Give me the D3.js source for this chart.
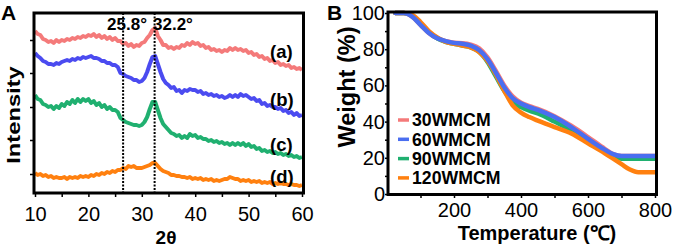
<!DOCTYPE html>
<html>
<head>
  <meta charset="utf-8">
  <style>
    body { margin: 0; background: #fff; }
    svg { font-family: Arial, "Liberation Sans", sans-serif; }
    .tick line { stroke: #000; stroke-width: 1.5; }
    .tick text { font-size: 20px; fill: #000; }
    .frame { fill: none; stroke: #000; stroke-width: 3; }
    .lbl { font-weight: bold; fill: #000; }
  </style>
</head>
<body>
<script src="https://d3js.org/d3.v7.min.js"></script>
<script>
// ---- panel A: XRD ----
const thetaStart = 10, thetaStep = 0.5;
const xrdA = [162,159,158,154,153,151,152,150,153,151, 153,152,154,153,155,154,156,155,157,156,
  158,157,159,156,158,155,157,154,156,153, 155,152,152,149,150,147,149,146,148,147,
  150,151,155,158,163,165,157,153,148,148, 145,146,144,146,145,148,147,150,148,151,
  149,150,147,148,145,146,143,144,142,143, 141,143,142,145,143,145,143,144,142,143,
  140,141,138,139,136,137,134,135,132,133, 130,131,128,129,127,128,125,126,124,125, 123];
const xrdB = [140,137,135,132,131,129,129,128,130,129, 131,132,133,132,134,133,135,134,136,135,
  136,137,135,135,134,132,132,130,130,128, 128,126,120,119,117,116,115,113,113,111,
  112,115,121,129,136,137,129,121,114,110, 108,105,106,102,103,100,103,102,104,103,
  103,101,102,99,100,98,99,97,98,96, 97,95,96,98,96,98,96,99,97,98,
  96,94,95,92,93,89,90,87,88,86, 86,84,85,82,83,80,81,78,80,77, 78];
const xrdC = [98,94,93,89,88,86,87,84,87,85, 89,87,91,89,93,90,94,91,94,92,
  94,90,92,88,90,86,88,84,86,83, 83,81,75,73,71,70,69,68,68,67,
  68,71,76,84,91,91,83,75,69,66, 63,60,59,57,58,55,57,55,59,57,
  58,55,56,54,54,52,53,51,52,50, 51,49,50,48,50,48,50,48,50,47,
  49,46,47,44,45,42,43,41,42,40, 41,39,40,38,39,37,38,36,37,35, 36];
const xrdD = [20,18,19,17,18,16,17,15,16,15, 15,16,14,16,15,16,15,17,16,17,
  16,18,17,19,18,20,19,21,20,22, 21,23,23,25,24,27,26,27,25,25,
  25,26,27,28,30,30,27,24,22,21, 20,18,18,17,17,16,16,15,16,14,
  15,14,15,13,14,13,14,12,13,12, 13,14,14,16,15,14,14,12,13,12,
  13,11,12,11,12,10,11,10,11,9, 10,9,10,9,9,8,9,8,8,7, 8];
const xrdLabels = ["(a)", "(b)", "(c)", "(d)"];
const xrdLabelY = [141, 93, 48, 16];
const xrdColors = ["#f47a7a", "#4b4bf0", "#20b070", "#ff800f"];
const peakPos = [26.5, 32.4];
const peakText = ["25.8°", "32.2°"];
const xTicksA = [10, 15, 20, 25, 30, 35, 40, 45, 50, 55, 60];
const yTicksA = [19, 53, 86, 120, 153];

// ---- panel B: TGA ----
const temps = [25, 50, 75, 100, 125, 150, 175, 200, 225, 250, 275, 300, 325, 350, 375, 400, 425, 450, 500, 550, 600, 650, 675, 700, 725, 750, 775, 800];
const w30 = [100, 100, 98, 93.5, 89, 86, 84.5, 83.5, 83.3, 82.5, 80.5, 75.5, 68, 60, 54, 50.5, 48.5, 47, 43, 37.7, 31.5, 25, 22, 21, 21, 21, 21, 21];
const w60 = [100, 100, 98, 93.5, 89, 86, 84.5, 83.5, 83, 82, 79.5, 74.5, 67, 59, 53, 50, 48, 46.5, 42.5, 37, 30.5, 24.5, 22, 21, 21, 21, 21, 21];
const w90 = [100, 100, 98.5, 94, 89.5, 86, 84, 83, 82, 81, 78.5, 73, 65, 57, 51, 48, 46, 44.5, 40, 35, 29, 23.5, 21, 19.5, 19.5, 19.5, 19.5, 19.5];
const w120 = [100, 100, 99, 95, 90, 86.5, 84, 83, 82, 81, 78.5, 73.5, 66, 57, 49, 45, 42.5, 40.5, 37, 33.5, 28, 22.5, 19.5, 16.5, 13.5, 12, 12, 12];
const tgaNames = ["30WMCM", "60WMCM", "90WMCM", "120WMCM"];
const tgaColors = ["#f47a7a", "#4a6ef0", "#20b070", "#ff800f"];
const xTicksB = [100, 200, 300, 400, 500, 600, 700, 800];
const yTicksB = [0, 10, 20, 30, 40, 50, 60, 70, 80, 90, 100];

const svg = d3.select("body").append("svg").attr("width", 678).attr("height", 250);

// panel A
const xA = d3.scaleLinear().domain([10, 60]).range([35, 302]);
const yA = d3.scaleLinear().domain([0, 180]).range([193, 13]);
const gA = svg.append("g");

gA.append("g").attr("transform", "translate(0,193)")
  .call(d3.axisBottom(xA).tickValues(xTicksA).tickSize(4).tickPadding(10)
    .tickFormat(d => d % 10 === 0 ? d : ""))
  .call(g => g.select(".domain").remove());
gA.append("g").attr("transform", "translate(34,0)")
  .call(d3.axisLeft(yA).tickValues(yTicksA).tickSize(4).tickFormat(""))
  .call(g => g.select(".domain").remove());

const lineA = d3.line().x((d, i) => xA(thetaStart + i * thetaStep)).y(d => yA(d));
[xrdA, xrdB, xrdC, xrdD].forEach((s, i) => {
  gA.append("path").datum(s).attr("d", lineA)
    .attr("fill", "none").attr("stroke", xrdColors[i]).attr("stroke-width", 4)
    .attr("stroke-linejoin", "round");
});

gA.selectAll(".peak").data(peakPos).enter().append("line")
  .attr("x1", d => xA(d)).attr("x2", d => xA(d))
  .attr("y1", 13).attr("y2", 193)
  .attr("stroke", "#000").attr("stroke-width", 2).attr("stroke-dasharray", "2,1.5");

gA.append("text").attr("class", "lbl").attr("x", 147).attr("y", 29.5)
  .attr("text-anchor", "end").attr("font-size", 17).text(peakText[0]);
gA.append("text").attr("class", "lbl").attr("x", 153).attr("y", 29.5)
  .attr("font-size", 17).text(peakText[1]);

gA.selectAll(".clab").data(xrdLabels).enter().append("text")
  .attr("class", "lbl").attr("x", 270).attr("y", (d, i) => yA(xrdLabelY[i]))
  .attr("dy", "0.35em").attr("font-size", 18.5).text(d => d);

gA.append("rect").attr("class", "frame").attr("x", 34).attr("y", 13).attr("width", 269.5).attr("height", 180);

// the original's axis title is drawn taller than wide
gA.append("text").attr("class", "lbl").attr("transform", "translate(19.5,115) rotate(-90) scale(1.25,1)")
  .attr("text-anchor", "middle").attr("font-size", 19).text("Intensity");
gA.append("text").attr("class", "lbl").attr("x", 166).attr("y", 244)
  .attr("text-anchor", "middle").attr("font-size", 19).text("2θ");
gA.append("text").attr("class", "lbl").attr("x", 1).attr("y", 20)
  .attr("font-size", 21).text("A");

// panel B
const xB = d3.scaleLinear().domain([0, 800]).range([387, 655]);
const yB = d3.scaleLinear().domain([0, 100]).range([194, 13]);
const gB = svg.append("g");

gB.append("g").attr("transform", "translate(0,194)")
  .call(d3.axisBottom(xB).tickValues(xTicksB).tickSize(4).tickPadding(5)
    .tickFormat(d => d % 200 === 0 ? d : ""))
  .call(g => g.select(".domain").remove());
gB.append("g").attr("transform", "translate(388,0)")
  .call(d3.axisLeft(yB).tickValues(yTicksB).tickSize(3).tickPadding(0)
    .tickFormat(d => d % 20 === 0 ? d : ""))
  .call(g => g.select(".domain").remove());

const series = [w30, w90, w120, w60];
const order = [0, 2, 3, 1];
const lineB = d3.line().x((d, i) => xB(temps[i])).y(d => yB(d)).curve(d3.curveMonotoneX);
series.forEach((s, k) => {
  gB.append("path").datum(s).attr("d", lineB)
    .attr("fill", "none").attr("stroke", tgaColors[order[k]]).attr("stroke-width", 4.5)
    .attr("stroke-linecap", "round");
});

const leg = gB.selectAll(".leg").data(tgaNames).enter().append("g")
  .attr("transform", (d, i) => `translate(398,${120 + i * 19.3})`);
leg.append("line").attr("x1", 0).attr("x2", 11).attr("stroke-width", 3.5)
  .attr("stroke", (d, i) => tgaColors[i]);
leg.append("text").attr("class", "lbl").attr("x", 14).attr("dy", "0.36em")
  .attr("font-size", 17.7).text(d => d);

gB.append("rect").attr("class", "frame").attr("x", 388).attr("y", 12).attr("width", 268.5).attr("height", 182.5);

gB.append("text").attr("class", "lbl").attr("transform", "translate(355,87) rotate(-90)")
  .attr("text-anchor", "middle").attr("font-size", 23.5).text("Weight (%)");
gB.append("text").attr("class", "lbl").attr("x", 537).attr("y", 240)
  .attr("text-anchor", "middle").attr("font-size", 20).text("Temperature (℃)");
gB.append("text").attr("class", "lbl").attr("x", 327).attr("y", 20)
  .attr("font-size", 21).text("B");
</script>
</body>
</html>
